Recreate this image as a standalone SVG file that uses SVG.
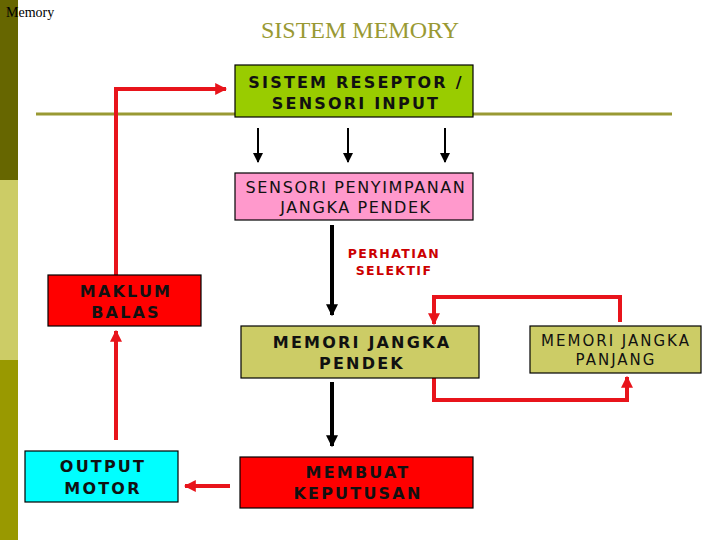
<svg xmlns="http://www.w3.org/2000/svg" width="720" height="540" viewBox="0 0 720 540">
<defs>
<style>
.box{stroke:#000;stroke-width:1.2}
.b{font-family:"DejaVu Sans",Verdana,sans-serif;font-weight:bold;font-size:16px;letter-spacing:2.2px;fill:#111;text-anchor:middle}
.n{font-family:"DejaVu Sans",Verdana,sans-serif;font-size:16px;letter-spacing:1.6px;fill:#111;text-anchor:middle}
.n2{font-family:"DejaVu Sans",Verdana,sans-serif;font-size:15px;letter-spacing:2px;fill:#111;text-anchor:middle}
.r{font-family:"DejaVu Sans",Verdana,sans-serif;font-weight:bold;font-size:12.5px;letter-spacing:1.4px;fill:#CC0000;text-anchor:middle}
.red{fill:none;stroke:#E8141B;stroke-width:4}
.blk{fill:none;stroke:#000;stroke-width:2}
.blk4{fill:none;stroke:#000;stroke-width:4}
</style>
<marker id="ar" viewBox="0 0 10 10" refX="9" refY="5" markerWidth="3" markerHeight="3" orient="auto" markerUnits="strokeWidth"><path d="M0,0 L10,5 L0,10 z" fill="#E8141B"/></marker>
<marker id="ak" viewBox="0 0 10 10" refX="9" refY="5" markerWidth="5" markerHeight="5" orient="auto" markerUnits="strokeWidth"><path d="M0,0 L10,5 L0,10 z" fill="#000"/></marker>
<marker id="ak4" viewBox="0 0 10 10" refX="9" refY="5" markerWidth="3" markerHeight="3" orient="auto" markerUnits="strokeWidth"><path d="M0,0 L10,5 L0,10 z" fill="#000"/></marker>
</defs>
<rect width="720" height="540" fill="#fff"/>
<rect x="0" y="0" width="18" height="180" fill="#666600"/>
<rect x="0" y="180" width="18" height="180" fill="#CCCC66"/>
<rect x="0" y="360" width="18" height="180" fill="#999900"/>
<text x="6" y="17" font-family="Liberation Serif,serif" font-size="14" fill="#000">Memory</text>
<text x="360" y="38" font-family="Liberation Serif,serif" font-size="24" fill="#999933" text-anchor="middle">SISTEM MEMORY</text>
<line x1="36" y1="114" x2="672" y2="114" stroke="#999933" stroke-width="3"/>

<g id="connectors">
<polyline class="red" points="116,275 116,89 226,89" marker-end="url(#ar)"/>
<line class="blk" x1="258" y1="128" x2="258" y2="162" marker-end="url(#ak)"/>
<line class="blk" x1="348" y1="128" x2="348" y2="162" marker-end="url(#ak)"/>
<line class="blk" x1="445" y1="128" x2="445" y2="162" marker-end="url(#ak)"/>
<line class="blk4" x1="332" y1="225" x2="332" y2="315" marker-end="url(#ak4)"/>
<polyline class="red" points="620,322 620,297 434,297 434,324" marker-end="url(#ar)"/>
<polyline class="red" points="434,378 434,400 627,400 627,377" marker-end="url(#ar)"/>
<line class="blk4" x1="332" y1="382" x2="332" y2="446" marker-end="url(#ak4)"/>
<line class="red" x1="230" y1="486" x2="185" y2="486" marker-end="url(#ar)"/>
<line class="red" x1="116" y1="440" x2="116" y2="331" marker-end="url(#ar)"/>
</g>

<g id="sistem-reseptor">
<rect class="box" x="235" y="65" width="238" height="52" fill="#99CC00"/>
<text class="b" x="356" y="88">SISTEM RESEPTOR /</text>
<text class="b" x="356" y="109">SENSORI INPUT</text>
</g>
<g id="sensori-penyimpanan">
<rect class="box" x="235" y="173" width="238" height="47" fill="#FF99CC"/>
<text class="n" x="356" y="193">SENSORI PENYIMPANAN</text>
<text class="n" x="356" y="213">JANGKA PENDEK</text>
</g>
<g id="perhatian-selektif">
<text class="r" x="394" y="258">PERHATIAN</text>
<text class="r" x="394" y="275">SELEKTIF</text>
</g>
<g id="maklum-balas">
<rect class="box" x="48" y="275" width="153" height="51" fill="#FF0000"/>
<text class="b" x="126" y="297">MAKLUM</text>
<text class="b" x="126" y="318">BALAS</text>
</g>
<g id="memori-pendek">
<rect class="box" x="241" y="326" width="238" height="52" fill="#CCCC66"/>
<text class="b" x="362" y="348">MEMORI JANGKA</text>
<text class="b" x="362" y="369">PENDEK</text>
</g>
<g id="memori-panjang">
<rect class="box" x="530" y="326" width="171" height="47" fill="#CCCC66"/>
<text class="n2" x="616" y="346">MEMORI JANGKA</text>
<text class="n2" x="616" y="365">PANJANG</text>
</g>
<g id="membuat-keputusan">
<rect class="box" x="240" y="457" width="233" height="51" fill="#FF0000"/>
<text class="b" x="358" y="478">MEMBUAT</text>
<text class="b" x="358" y="499">KEPUTUSAN</text>
</g>
<g id="output-motor">
<rect class="box" x="25" y="451" width="153" height="51" fill="#00FFFF"/>
<text class="b" x="103" y="472">OUTPUT</text>
<text class="b" x="103" y="494">MOTOR</text>
</g>
</svg>
